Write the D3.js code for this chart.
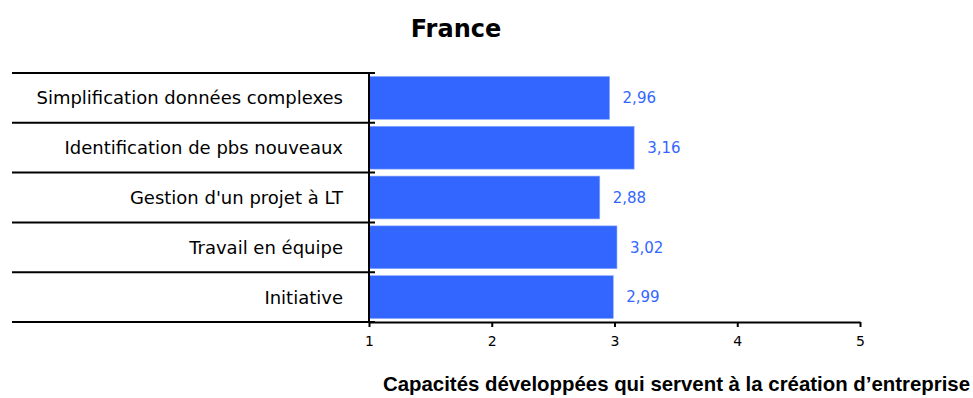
<!DOCTYPE html>
<html>
<head>
<meta charset="utf-8">
<script src="https://cdn.jsdelivr.net/npm/d3@7"></script>
<style>
  html, body { margin: 0; padding: 0; background: #fff; }
  svg { display: block; }
</style>
</head>
<body>
<svg id="chart" width="973" height="398"></svg>
<script>
const title = "France";
const categories = [
  "Simplification données complexes",
  "Identification de pbs nouveaux",
  "Gestion d'un projet à LT",
  "Travail en équipe",
  "Initiative"
];
const values = [2.96, 3.16, 2.88, 3.02, 2.99];
const xTicks = [1, 2, 3, 4, 5];
const xTitle = "Capacités développées qui servent à la création d’entreprise";

const svg = d3.select("#chart");
const plotLeft = 369, plotRight = 860, plotTop = 73, plotBottom = 322;
const barColor = "#3366ff";

const x = d3.scaleLinear().domain([1, 5]).range([plotLeft, plotRight]);
const y = d3.scaleBand().domain(categories).range([plotTop, plotBottom]).paddingInner(0.14).paddingOuter(0.07);
const band = d3.scaleBand().domain(categories).range([plotTop, plotBottom]);

// title
svg.append("text")
  .attr("x", 456).attr("y", 37)
  .attr("text-anchor", "middle")
  .attr("font-family", "DejaVu Sans, Verdana, sans-serif")
  .attr("font-weight", "bold")
  .attr("font-size", 24)
  .text(title);

// bars
svg.append("g").selectAll("rect")
  .data(categories)
  .join("rect")
  .attr("x", x(1))
  .attr("y", d => y(d))
  .attr("width", (d, i) => x(values[i]) - x(1))
  .attr("height", y.bandwidth())
  .attr("fill", barColor)
  .attr("stroke", "#8aa8ff")
  .attr("stroke-width", 0.6);

// value labels
svg.append("g").selectAll("text")
  .data(categories)
  .join("text")
  .attr("x", (d, i) => x(values[i]) + 13)
  .attr("y", d => y(d) + y.bandwidth() / 2)
  .attr("dy", "0.35em")
  .attr("font-family", "DejaVu Sans, Verdana, sans-serif")
  .attr("font-size", 15)
  .attr("fill", barColor)
  .text((d, i) => d3.format(".2f")(values[i]).replace(".", ","));

// category separators
const bounds = categories.map(c => band(c)).concat([plotBottom]);
svg.append("g").selectAll("line")
  .data(bounds)
  .join("line")
  .attr("x1", 12).attr("x2", plotLeft + 6)
  .attr("y1", d => d).attr("y2", d => d)
  .attr("stroke", "#000").attr("stroke-width", 2);

// category labels
svg.append("g").selectAll("text")
  .data(categories)
  .join("text")
  .attr("x", 343)
  .attr("y", d => band(d) + band.bandwidth() / 2)
  .attr("dy", "0.36em")
  .attr("text-anchor", "end")
  .attr("font-family", "DejaVu Sans, Verdana, sans-serif")
  .attr("font-size", 18)
  .attr("fill", "#000")
  .text(d => d);

// vertical axis line
svg.append("line")
  .attr("x1", plotLeft).attr("x2", plotLeft)
  .attr("y1", plotTop).attr("y2", plotBottom)
  .attr("stroke", "#000").attr("stroke-width", 2);

// x axis
const xAxis = svg.append("g")
  .attr("transform", `translate(0,${plotBottom})`)
  .call(d3.axisBottom(x).tickValues(xTicks).tickSize(5).tickSizeOuter(0).tickFormat(d3.format("d")));
xAxis.select(".domain").attr("stroke-width", 2);
xAxis.selectAll(".tick line").attr("stroke-width", 2);
xAxis.selectAll(".tick text")
  .attr("font-family", "DejaVu Sans, Verdana, sans-serif")
  .attr("font-size", 14)
  .attr("y", 10)
  .attr("dy", "1em");

// x axis title
svg.append("text")
  .attr("x", 970).attr("y", 391)
  .attr("text-anchor", "end")
  .attr("font-family", "Liberation Sans, Arial, sans-serif")
  .attr("font-weight", "bold")
  .attr("font-size", 20.4)
  .text(xTitle);
</script>
</body>
</html>
